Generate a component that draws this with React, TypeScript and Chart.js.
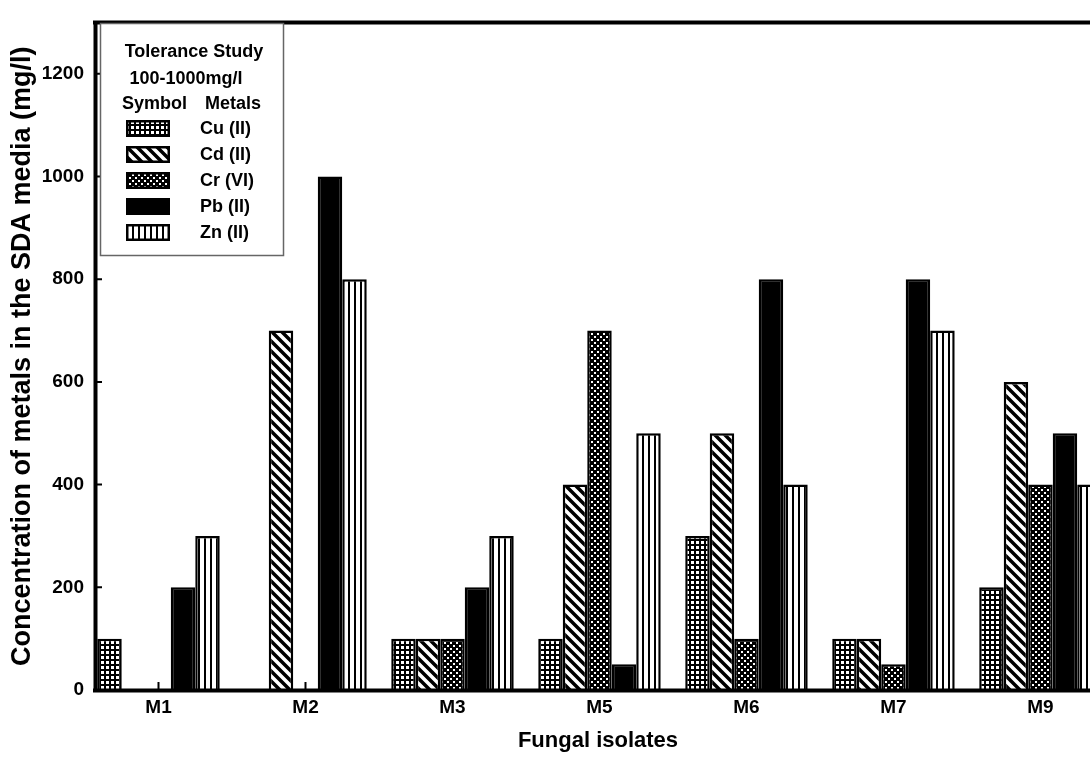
import React, { useEffect, useRef } from 'react';
import { Chart, registerables } from 'chart.js';

Chart.register(...registerables);

const categories = ['M1', 'M2', 'M3', 'M5', 'M6', 'M7', 'M9'];
const cuValues = [100, 0, 100, 100, 300, 100, 200];
const cdValues = [0, 700, 100, 400, 500, 100, 600];
const crValues = [0, 0, 100, 700, 100, 50, 400];
const pbValues = [200, 1000, 200, 50, 800, 800, 500];
const znValues = [300, 800, 300, 500, 400, 700, 400];
const yTickValues = [0, 200, 400, 600, 800, 1000, 1200];
const seriesNames = ['Cu (II)', 'Cd (II)', 'Cr (VI)', 'Pb (II)', 'Zn (II)'];
const seriesKinds = ['grid', 'diag', 'dots', 'solid', 'vert'];
const legendHeader = ['Tolerance Study', '100-1000mg/l'];
const legendColumns = ['Symbol', 'Metals'];
const xTitle = 'Fungal isolates';
const yTitle = 'Concentration of metals in the SDA media (mg/l)';

const FONT = '"Liberation Sans", Arial, Helvetica, sans-serif';

function makePattern(kind: string): CanvasPattern | string {
  if (kind === 'solid') return '#000';
  const c = document.createElement('canvas');
  const ctx = c.getContext('2d')!;
  if (kind === 'grid') {
    c.width = 5; c.height = 5;
    ctx.fillStyle = '#000'; ctx.fillRect(0, 0, 5, 5);
    ctx.fillStyle = '#fff'; ctx.fillRect(1, 1, 3, 3);
  } else if (kind === 'diag') {
    c.width = 10; c.height = 10;
    ctx.fillStyle = '#fff'; ctx.fillRect(0, 0, 10, 10);
    ctx.strokeStyle = '#000'; ctx.lineWidth = 3.5;
    ctx.beginPath();
    ctx.moveTo(-2, -2); ctx.lineTo(12, 12);
    ctx.moveTo(-2, 8); ctx.lineTo(2, 12);
    ctx.moveTo(8, -2); ctx.lineTo(12, 2);
    ctx.stroke();
  } else if (kind === 'dots') {
    c.width = 6; c.height = 6;
    ctx.fillStyle = '#000'; ctx.fillRect(0, 0, 6, 6);
    ctx.fillStyle = '#fff';
    ctx.fillRect(0, 0, 2, 2);
    ctx.fillRect(3, 3, 2, 2);
  } else if (kind === 'vert') {
    c.width = 6; c.height = 6;
    ctx.fillStyle = '#fff'; ctx.fillRect(0, 0, 6, 6);
    ctx.fillStyle = '#000'; ctx.fillRect(0, 0, 2, 6);
  }
  return ctx.createPattern(c, 'repeat')!;
}

export default function App() {
  const ref = useRef<HTMLCanvasElement | null>(null);

  useEffect(() => {
    const canvas = ref.current;
    if (!canvas) return;
    const patterns = seriesKinds.map(makePattern);
    const series = [cuValues, cdValues, crValues, pbValues, znValues];

    const framePlugin = {
      id: 'frame',
      beforeDatasetsDraw(chart: any) {
        const { ctx, chartArea, scales } = chart;
        ctx.save();
        ctx.strokeStyle = '#000';
        ctx.lineWidth = 2;
        ctx.beginPath();
        categories.forEach((_, i) => {
          const x = scales.x.getPixelForValue(i);
          ctx.moveTo(x, chartArea.bottom);
          ctx.lineTo(x, chartArea.bottom - 8);
        });
        yTickValues.forEach((v) => {
          const y = scales.y.getPixelForValue(v);
          ctx.moveTo(chartArea.left, y);
          ctx.lineTo(chartArea.left + 7, y);
        });
        ctx.stroke();
        ctx.restore();
      },
      afterDatasetsDraw(chart: any) {
        const { ctx, chartArea, width } = chart;
        ctx.save();
        ctx.strokeStyle = '#000';
        ctx.lineWidth = 4;
        ctx.lineCap = 'square';
        ctx.beginPath();
        ctx.moveTo(chartArea.left + 0.5, chartArea.top);
        ctx.lineTo(chartArea.left + 0.5, chartArea.bottom);
        ctx.moveTo(chartArea.left, chartArea.bottom + 0.5);
        ctx.lineTo(width + 5, chartArea.bottom + 0.5);
        ctx.moveTo(chartArea.left, chartArea.top);
        ctx.lineTo(width + 5, chartArea.top);
        ctx.stroke();

        // x-axis title (centred on the full, partly cropped, plot width)
        ctx.fillStyle = '#000';
        ctx.font = `bold 22px ${FONT}`;
        ctx.textAlign = 'center';
        ctx.textBaseline = 'middle';
        ctx.fillText(xTitle, 598, 741);

        // legend box
        const bx = 100, by = 23, bw = 183, bh = 232;
        ctx.fillStyle = '#fff';
        ctx.fillRect(bx, by, bw, bh);
        ctx.strokeStyle = '#666';
        ctx.lineWidth = 1.5;
        ctx.strokeRect(bx + 0.5, by + 0.5, bw, bh);
        ctx.fillStyle = '#000';
        ctx.font = `bold 18px ${FONT}`;
        ctx.textBaseline = 'middle';
        ctx.textAlign = 'center';
        ctx.fillText(legendHeader[0], 194, 52);
        ctx.fillText(legendHeader[1], 186, 79);
        ctx.textAlign = 'left';
        ctx.fillText(legendColumns[0], 122, 104);
        ctx.fillText(legendColumns[1], 205, 104);
        seriesNames.forEach((name, k) => {
          const cy = 128.5 + k * 26;
          ctx.fillStyle = patterns[k] as any;
          ctx.fillRect(126, cy - 8.5, 44, 17);
          ctx.strokeStyle = '#000';
          ctx.lineWidth = 2.5;
          ctx.strokeRect(127.25, cy - 7.25, 41.5, 14.5);
          ctx.fillStyle = '#000';
          ctx.fillText(name, 200, cy + 1);
        });
        ctx.restore();
      },
    };

    const chart = new Chart(canvas, {
      type: 'bar',
      data: {
        datasets: series.map((vals, k) => ({
          label: seriesNames[k],
          data: vals.map((v, i) => ({ x: i, y: v })),
          backgroundColor: patterns[k] as any,
          borderColor: '#000',
          borderWidth: 2.5,
          categoryPercentage: 0.8333,
          barPercentage: 1,
        })),
      },
      options: {
        responsive: false,
        animation: false,
        layout: { padding: { top: 17, left: 0, right: 0, bottom: 0 } },
        plugins: { legend: { display: false }, tooltip: { enabled: false } },
        scales: {
          x: {
            type: 'linear',
            offset: false,
            min: -0.432,
            max: 6.337,
            grid: { display: false, drawTicks: false, offset: false },
            border: { display: false },
            afterBuildTicks: (s: any) => {
              s.ticks = categories.map((_, i) => ({ value: i }));
            },
            afterFit: (s: any) => {
              s.height = 75;
            },
            ticks: {
              callback: (v: any) => categories[v] ?? '',
              font: { family: FONT, size: 19, weight: 'bold' },
              color: '#000',
              padding: 6,
              autoSkip: false,
              maxRotation: 0,
            },
            title: { display: false },
          },
          y: {
            min: 0,
            max: 1300,
            grid: { display: false, drawTicks: false },
            border: { display: false },
            afterBuildTicks: (s: any) => {
              s.ticks = yTickValues.map((v) => ({ value: v }));
            },
            afterFit: (s: any) => {
              s.width = 95;
            },
            ticks: {
              callback: (v: any) => String(v),
              font: { family: FONT, size: 19, weight: 'bold' },
              color: '#000',
              padding: 11,
            },
            title: {
              display: true,
              text: yTitle,
              font: { family: FONT, size: 27, weight: 'bold' },
              color: '#000',
              padding: { top: 6, bottom: 0 },
            },
          },
        },
      },
      plugins: [framePlugin],
    } as any);

    return () => chart.destroy();
  }, []);

  return (
    <div style={{ position: 'fixed', left: 0, top: 0, width: 1090, height: 765, background: '#fff', overflow: 'hidden' }}>
      <canvas ref={ref} width={1090} height={765} style={{ display: 'block' }} />
    </div>
  );
}
